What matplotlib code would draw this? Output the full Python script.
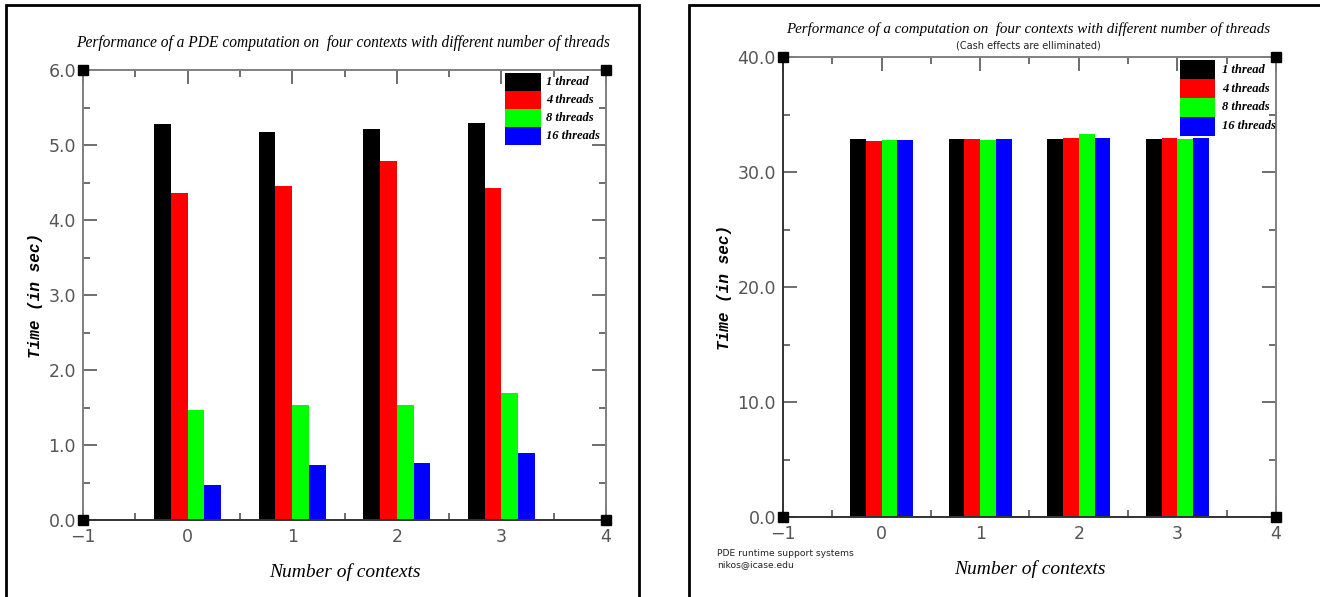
import numpy as np
import matplotlib
matplotlib.use("Agg")
import matplotlib.pyplot as plt
from matplotlib.patches import Rectangle
from matplotlib.ticker import MultipleLocator

# --- data ---
contexts = [0, 1, 2, 3]
series_labels = ["1 thread", "4 threads", "8 threads", "16 threads"]
series_colors = ["#000000", "#ff0000", "#00ff00", "#0000ff"]

pde_1 = [5.28, 5.17, 5.21, 5.29]
pde_4 = [4.36, 4.46, 4.79, 4.43]
pde_8 = [1.47, 1.53, 1.53, 1.69]
pde_16 = [0.47, 0.73, 0.76, 0.89]

comp_1 = [32.84, 32.84, 32.84, 32.84]
comp_4 = [32.72, 32.84, 32.93, 32.93]
comp_8 = [32.78, 32.80, 33.28, 32.90]
comp_16 = [32.80, 32.90, 33.00, 33.00]

W, H = 1320, 597
fig = plt.figure(figsize=(W / 100, H / 100), dpi=100, facecolor="white")

TITLE_FONT = dict(family=["Liberation Serif", "DejaVu Serif"], style="italic")
TICK_FONT = dict(family="DejaVu Sans", size=12.5, color="#555555")


def px_axes(x0, y0, x1, y1):
    # pixel box (top-left origin) -> figure fraction axes
    return fig.add_axes([x0 / W, 1 - y1 / H, (x1 - x0) / W, (y1 - y0) / H])


def frame(x0, y0, x1, y1):
    fig.add_artist(Rectangle((x0 / W, 1 - y1 / H), (x1 - x0) / W, (y1 - y0) / H,
                             transform=fig.transFigure, fill=False,
                             edgecolor="black", linewidth=2.0, clip_on=False))


def draw_panel(ax, series, ymax, ymajor, yfmt, legend_box):
    width = 0.16
    offsets = [-1.5 * width, -0.5 * width, 0.5 * width, 1.5 * width]
    x = np.array(contexts, dtype=float)
    for vals, col, off in zip(series, series_colors, offsets):
        ax.bar(x + off, vals, width=width, color=col, edgecolor="none", zorder=2)

    ax.set_xlim(-1, 4)
    ax.set_ylim(0, ymax)
    ax.xaxis.set_major_locator(MultipleLocator(1))
    ax.xaxis.set_minor_locator(MultipleLocator(0.5))
    ax.yaxis.set_major_locator(MultipleLocator(ymajor))
    ax.yaxis.set_minor_locator(MultipleLocator(ymajor / 2))
    ax.yaxis.set_major_formatter(plt.FuncFormatter(lambda v, p: yfmt.format(v)))
    ax.xaxis.set_major_formatter(plt.FuncFormatter(lambda v, p: "\u22121" if v < 0 else f"{v:.0f}"))
    ax.tick_params(which="both", direction="in", top=True, right=True,
                   color="#555555", width=1.2)
    ax.tick_params(which="major", length=10)
    ax.tick_params(which="minor", length=5)
    ax.tick_params(axis="y", which="major", labelsize=TICK_FONT["size"],
                   labelcolor=TICK_FONT["color"], pad=5)
    ax.tick_params(axis="x", which="major", labelsize=TICK_FONT["size"],
                   labelcolor=TICK_FONT["color"], pad=6)
    for s in ["left", "right", "top"]:
        ax.spines[s].set_color("#808080")
        ax.spines[s].set_linewidth(1.4)
    ax.spines["bottom"].set_color("#333333")
    ax.spines["bottom"].set_linewidth(1.4)

    # black squares at the corners
    ax.plot([0, 1, 0, 1], [0, 0, 1, 1], "s", color="black", markersize=7,
            transform=ax.transAxes, clip_on=False, zorder=5)

    # legend: stacked colour boxes with labels
    bx0, bx1, ytop, bh, tx = legend_box
    for i, (lab, col) in enumerate(zip(series_labels, series_colors)):
        y = ytop - (i + 1) * bh
        ax.add_patch(Rectangle((bx0, y), bx1 - bx0, bh, transform=ax.transAxes,
                               facecolor=col, edgecolor="none", clip_on=False, zorder=4))
        ax.text(tx, y + bh / 2, lab, transform=ax.transAxes, ha="left", va="center",
                fontsize=9, weight="bold", **TITLE_FONT)

    ax.set_xlabel("Number of contexts", fontsize=14, labelpad=12, **TITLE_FONT)
    ax.set_ylabel("Time (in sec)", fontsize=11.5, weight="bold", style="italic",
                  family=["Liberation Mono", "DejaVu Sans Mono"], labelpad=4)


# frames around each panel
frame(6, 5, 639, 620)
frame(689, 5, 1340, 620)

# left panel
ax1 = px_axes(83, 70, 606, 520)
draw_panel(ax1, [pde_1, pde_4, pde_8, pde_16], 6.0, 1.0, "{:.1f}",
           (0.807, 0.876, 0.993, 0.04, 0.885))
fig.text(343 / W, 1 - 43 / H,
         "Performance of a PDE computation on  four contexts with different number of threads",
         ha="center", va="center", fontsize=11.2, **TITLE_FONT)

# right panel
ax2 = px_axes(783, 57, 1276, 517)
draw_panel(ax2, [comp_1, comp_4, comp_8, comp_16], 40.0, 10.0, "{:.1f}",
           (0.805, 0.876, 0.993, 0.041, 0.89))
ax2.spines["left"].set_color("#333333")
fig.text(1028 / W, 1 - 29 / H,
         "Performance of a computation on  four contexts with different number of threads",
         ha="center", va="center", fontsize=10.8, **TITLE_FONT)
fig.text(1028 / W, 1 - 45 / H, "(Cash effects are elliminated)",
         ha="center", va="center", fontsize=7, family="DejaVu Sans", color="#222222")
fig.text(717 / W, 1 - 553 / H, "PDE runtime support systems",
         ha="left", va="center", fontsize=6.6, family="DejaVu Sans", color="#222222")
fig.text(717 / W, 1 - 565 / H, "nikos@icase.edu",
         ha="left", va="center", fontsize=6.6, family="DejaVu Sans", color="#222222")

fig.savefig("out.png", dpi=100, facecolor="white")
